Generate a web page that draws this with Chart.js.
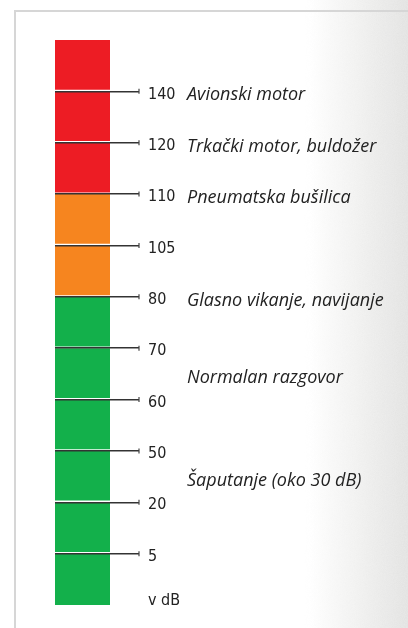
<!DOCTYPE html>
<html>
<head>
<meta charset="utf-8">
<script src="https://cdn.jsdelivr.net/npm/chart.js@4"></script>
<style>
  html, body { margin: 0; padding: 0; background: #fff; }
  .page {
    position: relative;
    width: 408px;
    height: 628px;
    overflow: hidden;
    background: linear-gradient(to right, #fff 0px, #fff 310px, #f2f2f1 365px, #e8e8e7 408px);
  }
  /* speckled paper texture on the right edge */
  .grain {
    position: absolute;
    left: 300px; top: 0; width: 108px; height: 628px;
    background-image: url("data:image/svg+xml;utf8,<svg xmlns='http://www.w3.org/2000/svg' width='108' height='628'><filter id='n'><feTurbulence type='fractalNoise' baseFrequency='0.9' numOctaves='2' seed='4'/><feColorMatrix values='0 0 0 0 0.5  0 0 0 0 0.5  0 0 0 0 0.5  0 0 0 0.35 0'/></filter><rect width='108' height='628' filter='url(%23n)'/></svg>");
    -webkit-mask-image: linear-gradient(to right, transparent 0px, rgba(0,0,0,0.5) 60px, #000 108px);
    mask-image: linear-gradient(to right, transparent 0px, rgba(0,0,0,0.5) 60px, #000 108px);
    opacity: 0.45;
  }
  .panel {
    position: absolute;
    left: 14px;
    top: 10px;
    right: -4px;
    bottom: -4px;
    border-left: 2px solid #d6d6d6;
    border-top: 2px solid #d6d6d6;
  }
  .chart-box { position: absolute; left: 0; top: 0; width: 408px; height: 628px; }
</style>
</head>
<body>
<div class="page">
  <div class="grain"></div>
  <div class="panel"></div>
  <div class="chart-box"><canvas id="noiseChart"></canvas></div>
</div>
<script>
// segments from the bottom up, one per step of the scale
const segmentZones = ['safe', 'safe', 'safe', 'safe', 'safe', 'safe', 'loud', 'loud', 'danger', 'danger', 'danger'];
// level written at each boundary between segments, bottom up
const tickLabels = ['5', '20', '50', '60', '70', '80', '105', '110', '120', '140'];
const unitLabel = 'v dB';
// example sources and where they sit on the scale (in segment units)
const sources = ['Avionski motor', 'Trkački motor, buldožer', 'Pneumatska bušilica', 'Glasno vikanje, navijanje', 'Normalan razgovor', 'Šaputanje (oko 30 dB)'];
const sourceLevels = [10, 9, 8, 6, 4.5, 2.5];

const zoneColors = { safe: '#13b04b', loud: '#f6851f', danger: '#ed1c24' };

const TICK_LEN = 29;
const NARROW = '"Liberation Sans Narrow", "DejaVu Sans Condensed", "Roboto", sans-serif';

const datasets = segmentZones.map((zone, i) => ({
  label: 'segment ' + (i + 1),
  data: [1],
  backgroundColor: zoneColors[zone],
  borderColor: '#ffffff',
  borderWidth: i === 0 ? 0 : { top: 0, left: 0, right: 0, bottom: 2 },
  borderSkipped: false,
  barPercentage: 1,
  categoryPercentage: 1
}));

const scaleExtras = {
  id: 'scaleExtras',
  afterDraw(chart) {
    const ctx = chart.ctx;
    const y = chart.scales.y;
    const area = chart.chartArea;
    const capX = area.right + TICK_LEN;

    // small end caps on the tick marks
    ctx.save();
    ctx.strokeStyle = '#444';
    ctx.lineWidth = 1.2;
    tickLabels.forEach((t, i) => {
      const py = y.getPixelForValue(i + 1);
      ctx.beginPath();
      ctx.moveTo(capX, py - 2.5);
      ctx.lineTo(capX, py + 2.5);
      ctx.stroke();
    });

    // example sources
    ctx.fillStyle = '#222';
    ctx.font = 'italic 18px "Open Sans", sans-serif';
    ctx.textAlign = 'left';
    ctx.textBaseline = 'middle';
    sources.forEach((s, i) => {
      ctx.fillText(s, capX + 48, y.getPixelForValue(sourceLevels[i]) + 4);
    });

    // unit under the last tick
    ctx.font = '16px ' + NARROW;
    ctx.fillText(unitLabel, capX + 9, y.getPixelForValue(0) - 4);
    ctx.restore();
  }
};

new Chart(document.getElementById('noiseChart'), {
  type: 'bar',
  data: { labels: [''], datasets: datasets },
  plugins: [scaleExtras],
  options: {
    responsive: true,
    maintainAspectRatio: false,
    animation: false,
    layout: { padding: { left: 55, top: 40, bottom: 23, right: 178 } },
    plugins: { legend: { display: false }, tooltip: { enabled: false } },
    scales: {
      x: { stacked: true, display: false },
      y: {
        stacked: true,
        position: 'right',
        min: 0,
        max: 11,
        afterBuildTicks: (s) => { s.ticks = tickLabels.map((t, i) => ({ value: i + 1 })); },
        afterFit: (s) => { s.width = 120; },
        border: { display: false },
        grid: { color: '#333', lineWidth: 1.5, tickLength: TICK_LEN, drawTicks: true, z: 1 },
        ticks: {
          padding: 9,
          labelOffset: 3,
          color: '#222',
          font: { family: NARROW, size: 16 },
          callback: (v, i) => tickLabels[i]
        }
      }
    }
  }
});
</script>
</body>
</html>
